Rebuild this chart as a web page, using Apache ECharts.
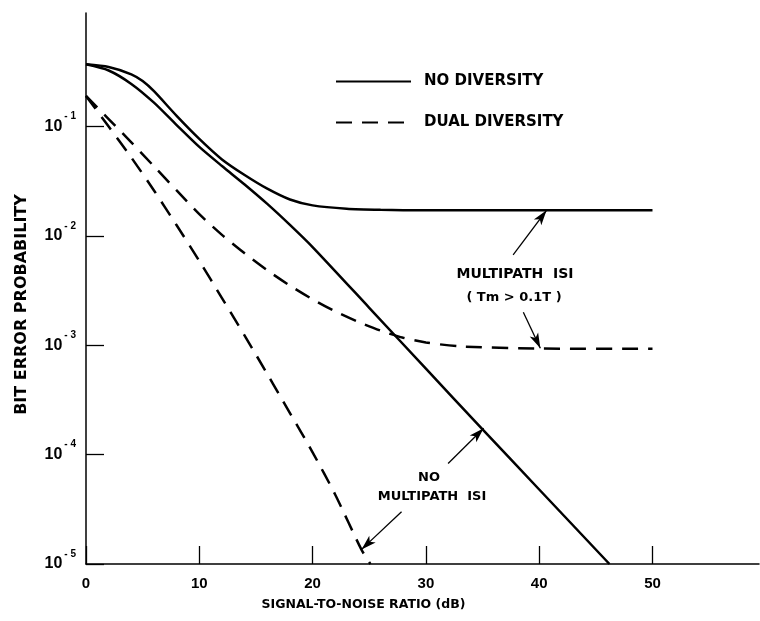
<!DOCTYPE html>
<html>
<head>
<meta charset="utf-8">
<script src="https://cdn.jsdelivr.net/npm/echarts@6/dist/echarts.min.js"></script>
<style>
html,body{margin:0;padding:0;background:#fff;}
#chart{width:760px;height:621px;}
</style>
</head>
<body>
<div id="chart"></div>
<script>
// ---- data (SNR in dB, bit error probability) ----
const xTickValues = [0, 10, 20, 30, 40, 50];
const yTickValues = [1e-5, 1e-4, 1e-3, 1e-2, 1e-1];

const snrNoDivISI = [0, 2, 4, 5, 6, 8, 10, 12, 14, 16, 18, 20, 23, 26, 30, 40, 50];
const berNoDivISI = [0.37, 0.35, 0.30, 0.26, 0.21, 0.125, 0.077, 0.05, 0.036, 0.027, 0.0215, 0.019, 0.0177, 0.0173, 0.0171, 0.0171, 0.0171];

const snrNoDivNoISI = [0, 2, 4, 6, 8, 10, 12, 14, 16, 18, 20, 25, 30, 35, 40, 46.2];
const berNoDivNoISI = [0.37, 0.325, 0.245, 0.165, 0.103, 0.065, 0.0435, 0.0295, 0.0196, 0.0126, 0.0079, 0.0022, 0.00061, 0.00017, 0.000048, 0.00001];

const snrDualISI = [0, 2, 4, 6, 8, 10, 12, 14, 16, 18, 20, 22, 24, 26, 28, 30, 33, 40, 50];
const berDualISI = [0.19, 0.117, 0.0716, 0.0432, 0.026, 0.0158, 0.0102, 0.00692, 0.00484, 0.00351, 0.00263, 0.00204, 0.00164, 0.00136, 0.00117, 0.00106, 0.000977, 0.000933, 0.000929];

const snrDualNoISI = [0, 2, 4, 6, 8, 10, 12, 15, 18, 20, 22, 24.3, 25.1];
const berDualNoISI = [0.19, 0.1, 0.052, 0.026, 0.0125, 0.0059, 0.0027, 0.00082, 0.00024, 0.000105, 0.000043, 0.0000136, 0.00001];

// annotation arrows: [tail SNR, tail BER, head SNR, head BER]
const arrowMultipathSolid = [37.7, 0.0067, 40.65, 0.0171];
const arrowMultipathDashed = [38.6, 0.002, 40.1, 0.00094];
const arrowNoMultipathSolid = [31.96, 0.000083, 35.1, 0.000174];
const arrowNoMultipathDashed = [27.85, 0.00003, 24.32, 0.0000136];

const legendNames = ['NO DIVERSITY', 'DUAL DIVERSITY'];

function pairs(xs, ys) { return xs.map((x, i) => [x, ys[i]]); }
function arrow(a) { return [{ coord: [a[0], a[1]], symbol: 'none' }, { coord: [a[2], a[3]], symbol: 'arrow' }]; }

const FONT = 'DejaVu Sans';
const chart = echarts.init(document.getElementById('chart'), null, { renderer: 'canvas' });

const solidStyle = { color: '#000', width: 2.5, type: 'solid' };
const dashStyle = { color: '#000', width: 2.5, type: [16, 10] };
const arrowLine = { color: '#000', width: 1.3, type: 'solid' };

function curve(name, xs, ys, style, marks) {
  const s = {
    name: name, type: 'line', data: pairs(xs, ys),
    showSymbol: false, symbol: 'none', smooth: 0.25,
    lineStyle: style, itemStyle: { color: '#000' }
  };
  if (marks) {
    s.markLine = { silent: true, symbolSize: [7, 15], label: { show: false }, lineStyle: arrowLine, data: marks.map(arrow) };
  }
  return s;
}

chart.setOption({
  animation: false,
  backgroundColor: '#fff',
  grid: { left: 86, right: 1, top: 13, bottom: 57, outerBoundsMode: 'none', containLabel: false },
  legend: {
    data: legendNames,
    orient: 'vertical',
    left: 335, top: 74, padding: 0,
    itemWidth: 75, itemHeight: 14, itemGap: 26,
    itemStyle: { color: 'rgba(0,0,0,0)', borderColor: 'rgba(0,0,0,0)', borderWidth: 0, opacity: 0 },
    textStyle: { fontFamily: FONT, fontWeight: 'bold', fontSize: 15, color: '#000', padding: [0, 0, 0, 8] },
    selectedMode: false
  },
  xAxis: {
    type: 'value', min: 0, max: 59.4,
    name: 'SIGNAL-TO-NOISE RATIO (dB)', nameLocation: 'middle', nameGap: 34,
    nameTextStyle: { fontFamily: FONT, fontWeight: 'bold', fontSize: 12.5, color: '#000', padding: [0, 118, 0, 0] },
    axisLine: { lineStyle: { color: '#000', width: 1.5 } },
    axisTick: { inside: true, length: 18, lineStyle: { color: '#000', width: 1.3 }, customValues: xTickValues },
    axisLabel: { customValues: xTickValues, margin: 12, fontFamily: 'Liberation Sans', fontWeight: 'bold', fontSize: 15, color: '#000' },
    splitLine: { show: false }
  },
  yAxis: {
    type: 'log', logBase: 10, min: 1e-5, max: 1.09,
    name: 'BIT ERROR PROBABILITY', nameLocation: 'middle', nameGap: 56,
    nameTextStyle: { fontFamily: FONT, fontWeight: 'bold', fontSize: 16, color: '#000', padding: [0, 32, 0, 0] },
    axisLine: { show: true, lineStyle: { color: '#000', width: 1.5 } },
    axisTick: { inside: true, length: 18, lineStyle: { color: '#000', width: 1.3 }, customValues: yTickValues },
    axisLabel: {
      customValues: yTickValues, margin: 10,
      formatter: function (v) { const e = Math.round(Math.log10(v)); return '{b|10}{s|- ' + (-e) + '}'; },
      rich: {
        b: { fontFamily: 'Liberation Sans', fontWeight: 'bold', fontSize: 16, color: '#000' },
        s: { fontFamily: 'Liberation Sans', fontWeight: 'bold', fontSize: 10, color: '#000', padding: [0, 0, 20, 2] }
      }
    },
    splitLine: { show: false }
  },
  series: [
    curve(legendNames[0], snrNoDivISI, berNoDivISI, solidStyle, [arrowMultipathSolid, arrowNoMultipathSolid]),
    curve(legendNames[0], snrNoDivNoISI, berNoDivNoISI, solidStyle),
    curve(legendNames[1], snrDualISI, berDualISI, dashStyle, [arrowMultipathDashed, arrowNoMultipathDashed]),
    curve(legendNames[1], snrDualNoISI, berDualNoISI, dashStyle)
  ],
  graphic: [
    { type: 'text', x: 515, y: 274, style: { text: 'MULTIPATH  ISI', font: 'bold 14px "DejaVu Sans"', fill: '#000', align: 'center', verticalAlign: 'middle' } },
    { type: 'text', x: 514, y: 298, style: { text: '( Tm > 0.1T )', font: 'bold 13px "DejaVu Sans"', fill: '#000', align: 'center', verticalAlign: 'middle' } },
    { type: 'text', x: 429, y: 478, style: { text: 'NO', font: 'bold 13px "DejaVu Sans"', fill: '#000', align: 'center', verticalAlign: 'middle' } },
    { type: 'text', x: 432, y: 497, style: { text: 'MULTIPATH  ISI', font: 'bold 13px "DejaVu Sans"', fill: '#000', align: 'center', verticalAlign: 'middle' } }
  ]
});
</script>
</body>
</html>
